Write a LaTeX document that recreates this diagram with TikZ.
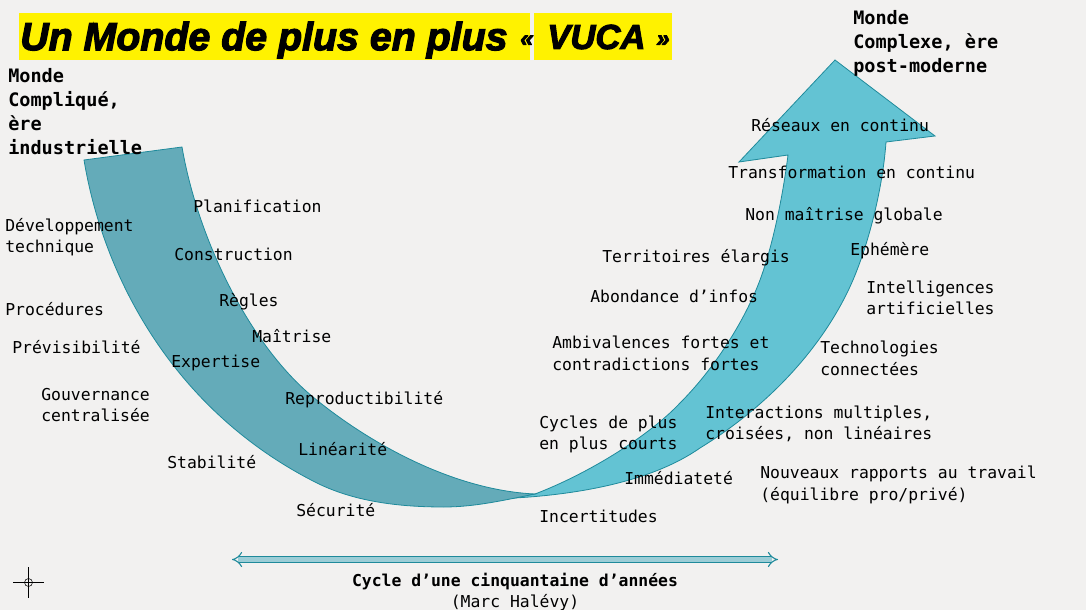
\documentclass[tikz,border=0pt]{standalone}
\usepackage{fontspec}
\usepackage{xcolor}
\usetikzlibrary{arrows.meta,positioning}
\setmonofont{DejaVu Sans Mono}
\newfontfamily\titlefont[FakeBold=3]{Liberation Sans Bold Italic}
\definecolor{pagebg}{HTML}{F2F1F0}
\definecolor{darkband}{HTML}{64ABB9}
\definecolor{lightband}{HTML}{63C3D3}
\definecolor{bandline}{HTML}{1F8A9B}
\definecolor{cyclefill}{HTML}{9CCDD6}
\tikzset{%
  label/.style={anchor=west,inner sep=0pt,align=left,font=\ttfamily\fontsize{12.3}{16}\selectfont},
  bold label/.style={label,font=\ttfamily\bfseries\fontsize{13.9}{18}\selectfont},
  title box/.style={fill=yellow,inner sep=0pt,minimum height=35.25pt,anchor=west},
  title text/.style={inner sep=0pt,anchor=west,font=\titlefont\fontsize{29.5}{30}\selectfont},
  title quote/.style={title text,font=\titlefont\fontsize{18}{24}\selectfont}
}

\begin{document}
\begin{tikzpicture}[x=0.75pt,y=-0.75pt]
  \useasboundingbox (0,0) rectangle (1086,610);
  \fill[pagebg] (0,0) rectangle (1086,610);

  % the two bands
  \draw[bandline,fill=lightband,line width=0.6pt]
    (490,499) .. controls (570,497) and (650,483) .. (700,448)
    .. controls (770,405) and (825,345) .. (853,280)
    .. controls (870,240) and (883,185) .. (886,142)
    -- (935,136) -- (835,60) -- (739,162) -- (788,155)
    .. controls (783,195) and (773,245) .. (760,280)
    .. controls (745,320) and (715,368) .. (680,403)
    .. controls (650,435) and (590,473) .. (535,494) -- cycle;
  \draw[bandline,fill=darkband,line width=0.6pt]
    (84,160) .. controls (104,280) and (175,410) .. (313,481)
    .. controls (353,502) and (400,507) .. (444,507)
    .. controls (475,507) and (505,500) .. (535,494)
    .. controls (450,490) and (365,440) .. (313,397)
    .. controls (250,345) and (198,240) .. (182,147) -- cycle;

  % title
  \node[title box,minimum width=383.25pt] (titleleft) at (19,36.5) {};
  \node[title box,minimum width=103.5pt] (titleright) at (534,36.5) {};
  \node[title text] (titlemain) at (20,40) {Un Monde de plus en plus};
  \node[title quote] (titleopen) at (520,41) {«};
  \node[title text,font=\titlefont\fontsize{26}{30}\selectfont] (titlevuca) at (547,37) {VUCA};
  \node[title quote] (titleclose) at (656,41) {»};

  % left side
  \node[bold label] (compliq) at (8,112) {Monde\\Compliqué,\\ère\\industrielle};
  \node[label] (devtech) at (5,237) {Développement\\technique};
  \node[label] (planif) at (193,206) {Planification};
  \node[label] (constr) at (174,254) {Construction};
  \node[label] (proced) at (5,309) {Procédures};
  \node[label] (regles) at (219,302) {Règles};
  \node[label] (maitr) at (252,336) {Maîtrise};
  \node[label] (previs) at (12,347) {Prévisibilité};
  \node[label] (expert) at (171,363) {Expertise};
  \node[label] (gouv) at (41,405) {Gouvernance\\centralisée};
  \node[label] (reprod) at (285,400) {Reproductibilité};
  \node[label] (linear) at (298,449) {Linéarité};
  \node[label] (stabil) at (167,462) {Stabilité};
  \node[label] (secur) at (296,510) {Sécurité};

  % right side
  \node[bold label] (complex) at (853,43) {Monde\\Complexe, ère\\post-moderne};
  \node[label] (reseaux) at (751,125.5) {Réseaux en continu};
  \node[label] (transf) at (728,172) {Transformation en continu};
  \node[label] (nonmait) at (745,215.5) {Non maîtrise globale};
  \node[label] (epheme) at (850,251) {Ephémère};
  \node[label] (territ) at (602,257.5) {Territoires élargis};
  \node[label] (intell) at (866,298) {Intelligences\\artificielles};
  \node[label] (abond) at (590,296) {Abondance d’infos};
  \node[label] (ambiv) at (552,353.5) {Ambivalences fortes et\\contradictions fortes};
  \node[label] (techno) at (820,358.5) {Technologies\\connectées};
  \node[label] (inter) at (705,424) {Interactions multiples,\\croisées, non linéaires};
  \node[label] (cycles) at (539,434.5) {Cycles de plus\\en plus courts};
  \node[label] (rapports) at (760,485) {Nouveaux rapports au travail\\(équilibre pro/privé)};
  \node[label] (immed) at (624,478) {Immédiateté};
  \node[label] (incert) at (539,516) {Incertitudes};

  % duration
  \coordinate (cycleleft) at (232,559.5);
  \coordinate (cycleright) at (778,559.5);
  \draw[bandline,double=cyclefill,double distance=3.2pt,line width=0.8pt,{Implies[length=6pt,width=11pt]}-{Implies[length=6pt,width=11pt]}] (cycleleft) -- (cycleright);
  \node[label,font=\ttfamily\bfseries\fontsize{12.3}{16}\selectfont,anchor=center] (cycle) at (515,582) {Cycle d’une cinquantaine d’années};
  \node[label,anchor=center] (halevy) at (515,603) {(Marc Halévy)};

  % registration mark
  \draw[black,line width=0.4pt] (13,582.5) -- (44,582.5) (28.5,567) -- (28.5,598);
  \draw[black,line width=0.4pt] (28.5,582.5) circle (4);
\end{tikzpicture}
\end{document}
